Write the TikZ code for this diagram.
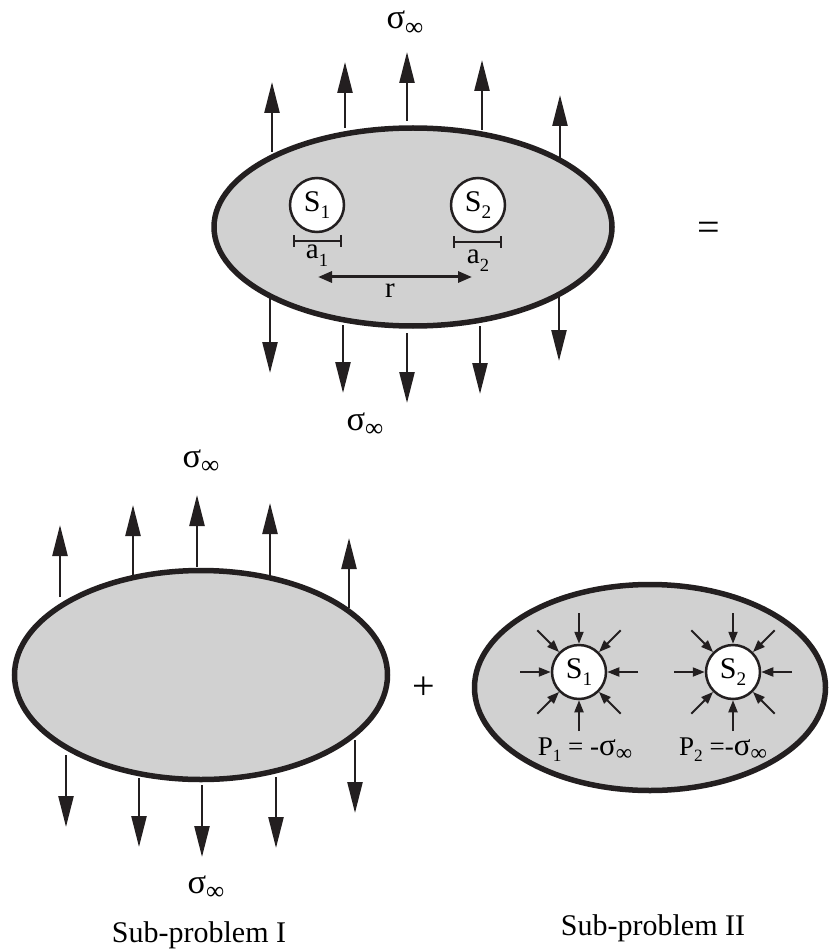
\documentclass[tikz,border=0pt]{standalone}
\usepackage{fontspec}
\setmainfont{Liberation Serif}
\usetikzlibrary{positioning, arrows.meta}
\definecolor{bodygray}{HTML}{D1D1D1}
\definecolor{ink}{HTML}{231F20}
\newcommand{\lowidx}[1]{\raisebox{-0.25em}{\scalebox{0.64}{#1}}}
\newcommand{\sinf}{\scalebox{1.15}{σ}\raisebox{-0.22em}{\scalebox{0.85}{∞}}}

\tikzset{
    body/.style={draw=ink, fill=bodygray, line width=5.5pt},
    hole/.style={circle, draw=ink, fill=white, line width=2.5pt, minimum size=54pt,
        inner sep=0pt, font=\fontsize{30}{30}\selectfont},
    load/.style={draw=ink, line width=2.5pt, -{Triangle[length=31pt, width=15pt]}},
    press/.style={draw=ink, line width=2pt, -{Triangle[length=12pt, width=9pt]}},
    span/.style={draw=ink, line width=3pt, {Triangle[length=14pt, width=11pt]}-{Triangle[length=14pt, width=11pt]}},
    bar/.style={draw=ink, line width=2pt, {Bar[width=12pt]}-{Bar[width=12pt]}},
    lbl/.style={inner sep=0pt, anchor=base, font=\fontsize{29}{31}\selectfont},
    siglbl/.style={inner sep=0pt, anchor=base, font=\fontsize{30}{32}\selectfont},
    caption/.style={inner sep=0pt, anchor=base, font=\fontsize{30}{32}\selectfont},
    opsign/.style={inner sep=0pt, font=\fontsize{40}{40}\selectfont},
}

\begin{document}
\begin{tikzpicture}[x=1pt, y=-1pt]
    \useasboundingbox (0,0) rectangle (829,949);

    % full problem
    \draw[body] (413,227) ellipse [x radius=199pt, y radius=99pt];
    \foreach \x/\yb/\yt in {272/152/82, 345/128/62, 407/121/52, 482/130/60, 560/162/95}
        \draw[load] (\x,\yb) -- (\x,\yt);
    \foreach \x/\yb/\yt in {270/296/373, 343/325/393, 407/333/403, 480/326/394, 559/294/361}
        \draw[load] (\x,\yb) -- (\x,\yt);
    \node[siglbl] (sigtop) at (405,29) {\sinf};
    \node[siglbl] (sigbot) at (365,430) {\sinf};

    \node[hole] (s1) at (317,205) {S\lowidx{1}};
    \node[hole] (s2) at (478,205) {S\lowidx{2}};
    \coordinate (a1l) at (293,241);
    \coordinate (a1r) at (342,241);
    \coordinate (a2l) at (453,242);
    \coordinate (a2r) at (502,242);
    \draw[bar] (a1l) -- (a1r);
    \draw[bar] (a2l) -- (a2r);
    \node[lbl] (a1) at (317,259) {a\lowidx{1}};
    \node[lbl] (a2) at (478,264) {a\lowidx{2}};
    \coordinate (rl) at (318,277);
    \coordinate (rr) at (472,277);
    \draw[span] (rl) -- (rr);
    \node[lbl] (rlbl) at (390,298) {r};

    \node[opsign] (eq) at (709,231) {=};

    % sub-problem I
    \draw[body] (201,675) ellipse [x radius=186.5pt, y radius=104.5pt];
    \foreach \x/\yb/\yt in {60/597/525, 133/575/505, 197/567/495, 270/575/503, 349/608/538}
        \draw[load] (\x,\yb) -- (\x,\yt);
    \foreach \x/\yb/\yt in {66/755/827, 139/778/847, 202/785/857, 276/777/848, 355/740/813}
        \draw[load] (\x,\yb) -- (\x,\yt);
    \node[siglbl] (sigItop) at (201,467) {\sinf};
    \node[siglbl] (sigIbot) at (206,893) {\sinf};

    \node[opsign] (plus) at (424,688) {+};

    % sub-problem II
    \draw[body] (650,687.5) ellipse [x radius=175.5pt, y radius=103pt];
    \node[hole] (p1) at (579,672) {S\lowidx{1}};
    \node[hole] (p2) at (733,672) {S\lowidx{2}};
    \foreach \a in {0,45,...,315} {
        \draw[press] ([shift={(\a:59pt)}]p1.center) -- (p1.\a);
        \draw[press] ([shift={(\a:59pt)}]p2.center) -- (p2.\a);
    }
    \node[lbl, font=\fontsize{27}{29}\selectfont] (p1lbl) at (585,755) {P\lowidx{1} = -\sinf};
    \node[lbl, font=\fontsize{27}{29}\selectfont] (p2lbl) at (723,755) {P\lowidx{2} =-\sinf};

    \node[caption] (subI) at (199,942) {Sub-problem I};
    \node[caption] (subII) at (653,935) {Sub-problem II};
\end{tikzpicture}
\end{document}
